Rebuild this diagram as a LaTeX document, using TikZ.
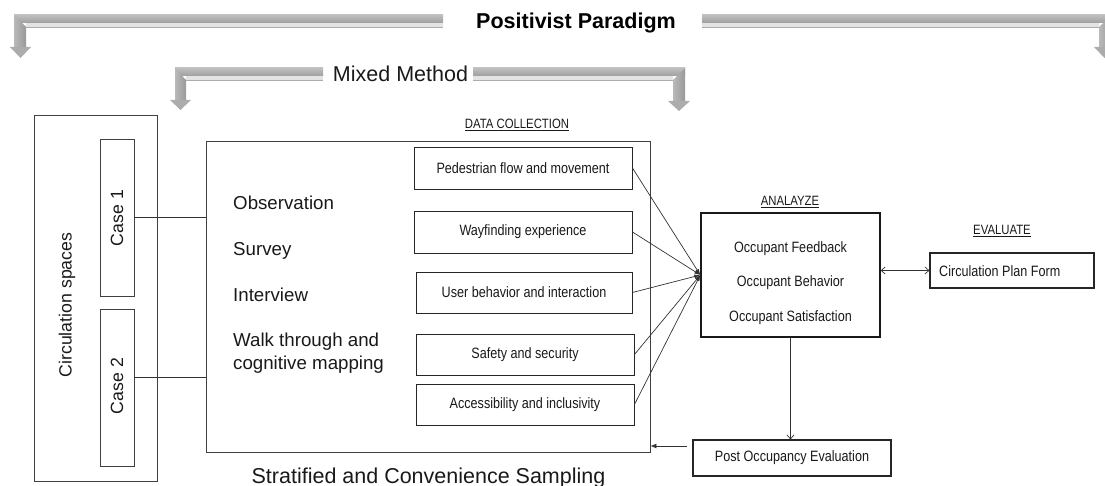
\documentclass[tikz,border=0pt]{standalone}
\usepackage{fontspec}
\setmainfont{Liberation Sans}
\newfontfamily\narrowfont[FakeStretch=0.84]{Liberation Sans}
\usetikzlibrary{arrows.meta}
\tikzset{
  barshade/.style={top color=gray!50, bottom color=gray!75},
  stripfill/.style={fill=gray!22},
  shaftshade/.style={left color=gray!55, right color=gray!80},
  headfill/.style={fill=gray!65},
  boxline/.style={draw=black!85, line width=0.9pt, inner sep=0pt},
  outerbox/.style={draw=black!75, line width=0.8pt, inner sep=0pt},
  bigtext/.style={font=\fontsize{21.5}{24}\selectfont, inner sep=0pt},
  midtext/.style={font=\fontsize{18.7}{22.7}\selectfont, inner sep=0pt, text=black!90},
  casetext/.style={font=\fontsize{17.7}{20}\selectfont, inner sep=0pt, rotate=90, text=black!90},
  smalltext/.style={font=\narrowfont\fontsize{15}{17}\selectfont, inner sep=0pt, text=black!90},
  headtext/.style={font=\narrowfont\fontsize{13.5}{15}\selectfont, inner sep=0pt, text=black!90},
  conn/.style={draw=black!80, line width=0.7pt},
}
\begin{document}
\begin{tikzpicture}[x=1pt,y=-1pt]
\useasboundingbox (0,0) rectangle (1105,486);
\clip (0,0) rectangle (1105,486);

% ---- Positivist Paradigm bracket ----
\shade[barshade] (14,15) rectangle (443,23);
\fill[stripfill] (26,23) rectangle (443,27);
\draw[gray!65, line width=0.6pt] (26,27) -- (443,27);
\shade[shaftshade] (14,15) -- (26,27) -- (26,47) -- (14,47) -- cycle;
\fill[headfill] (10,47) -- (31,47) -- (20.5,58) -- cycle;

\shade[barshade] (702,15) rectangle (1112,23);
\fill[stripfill] (702,23) rectangle (1099,27);
\draw[gray!65, line width=0.6pt] (702,27) -- (1099,27);
\shade[shaftshade] (1112,15) -- (1099,27) -- (1099,47) -- (1112,47) -- cycle;
\fill[headfill] (1094,47) -- (1115,47) -- (1104.5,58) -- cycle;

\node[bigtext, font=\bfseries\fontsize{21.5}{24}\selectfont, anchor=base] (pos) at (576,28.3) {Positivist Paradigm};

% ---- Mixed Method bracket ----
\shade[barshade] (175,68) rectangle (323,76);
\fill[stripfill] (186,76) rectangle (323,80);
\draw[gray!65, line width=0.6pt] (186,80) -- (323,80);
\shade[shaftshade] (175,68) -- (186,80) -- (186,100) -- (175,100) -- cycle;
\fill[headfill] (170,100) -- (191,100) -- (180.5,110) -- cycle;

\shade[barshade] (473,68) rectangle (685,76);
\fill[stripfill] (473,76) rectangle (673,80);
\draw[gray!65, line width=0.6pt] (473,80) -- (673,80);
\shade[shaftshade] (685,68) -- (673,80) -- (673,101) -- (685,101) -- cycle;
\fill[headfill] (668,101) -- (690,101) -- (679,111) -- cycle;

\node[bigtext, anchor=base, text=black!90] (mixed) at (400.5,81.7) {Mixed Method};

% ---- Circulation spaces ----
\node[outerbox, minimum width=123pt, minimum height=366pt] (circ) at (95.5,298) {};
\node[casetext] (circtxt) at (67,305) {Circulation spaces};
\node[outerbox, minimum width=34pt, minimum height=157pt] (case1) at (117,217.5) {};
\node[casetext] (case1txt) at (117,218) {Case 1};
\node[outerbox, minimum width=34pt, minimum height=157pt] (case2) at (117,387.5) {};
\node[casetext] (case2txt) at (117,386) {Case 2};

% ---- Data collection ----
\node[outerbox, minimum width=444pt, minimum height=311pt] (dc) at (428,296.5) {};
\node[headtext, anchor=base] (dctitle) at (517,129) {\underline{DATA COLLECTION}};

\draw[conn] (case1.east) -- (dc.west |- case1.east);
\draw[conn] (case2.east |- 0,377) -- (dc.west |- 0,377);

\node[midtext, anchor=base west] (obs) at (233,209.3) {Observation};
\node[midtext, anchor=base west] (sur) at (233,255.7) {Survey};
\node[midtext, anchor=base west] (int) at (233,301) {Interview};
\node[midtext, anchor=base west] (walk) at (233,346.7) {Walk through and};
\node[midtext, anchor=base west] (cog) at (233,369.4) {cognitive mapping};

\node[boxline, minimum width=218pt, minimum height=42pt, smalltext] (ped) at (523,168) {Pedestrian flow and movement};
\node[boxline, minimum width=218pt, minimum height=42pt, smalltext] (way) at (523,232) {Wayfinding experience};
\node[boxline, minimum width=216pt, minimum height=41pt, smalltext] (usr) at (524,292.5) {User behavior and interaction};
\node[boxline, minimum width=218pt, minimum height=41pt, smalltext] (saf) at (525,354.5) {Safety and security};
\node[boxline, minimum width=218pt, minimum height=41pt, smalltext] (acc) at (525,404.5) {Accessibility and inclusivity};

% ---- Analyze ----
\node[draw=black!90, line width=1.3pt, inner sep=0pt, minimum width=179pt, minimum height=124pt] (ana) at (790.5,275) {};
\node[headtext, anchor=base] (anatitle) at (790,206) {\underline{ANALAYZE}};
\node[smalltext, anchor=base] (of) at (790.5,252.7) {Occupant Feedback};
\node[smalltext, anchor=base] (ob) at (790.5,286.7) {Occupant Behavior};
\node[smalltext, anchor=base] (os) at (790.5,321.7) {Occupant Satisfaction};

\foreach \b in {ped,way,usr,saf,acc}
  \draw[conn, -{Latex[length=6pt,width=4pt]}] (\b.east) -- (ana.west);

% ---- Evaluate ----
\node[headtext, anchor=base] (evtitle) at (1002,235) {\underline{EVALUATE}};
\node[boxline, line width=1.1pt, minimum width=164pt, minimum height=35pt] (cpf) at (1012,270.5) {};
\node[smalltext, anchor=base west] (cpftxt) at (939,276.7) {Circulation Plan Form};
\draw[conn, {Straight Barb[length=4pt,width=7pt]}-{Straight Barb[length=4pt,width=7pt]}] (ana.east |- cpf.west) -- (cpf.west);

% ---- Post occupancy ----
\node[boxline, line width=1.1pt, minimum width=198pt, minimum height=36pt, smalltext] (poe) at (792,458) {Post Occupancy Evaluation};
\draw[conn, -{Straight Barb[length=4pt,width=7pt]}] (ana.south) -- (ana.south |- poe.north);
\draw[conn, -{Latex[length=6pt,width=5pt]}] ([xshift=-5pt]poe.west |- 0,446) -- (dc.east |- 0,446);

% ---- Sampling ----
\node[bigtext, anchor=base, text=black!90] (samp) at (428.5,483.5) {Stratified and Convenience Sampling};
\end{tikzpicture}
\end{document}
